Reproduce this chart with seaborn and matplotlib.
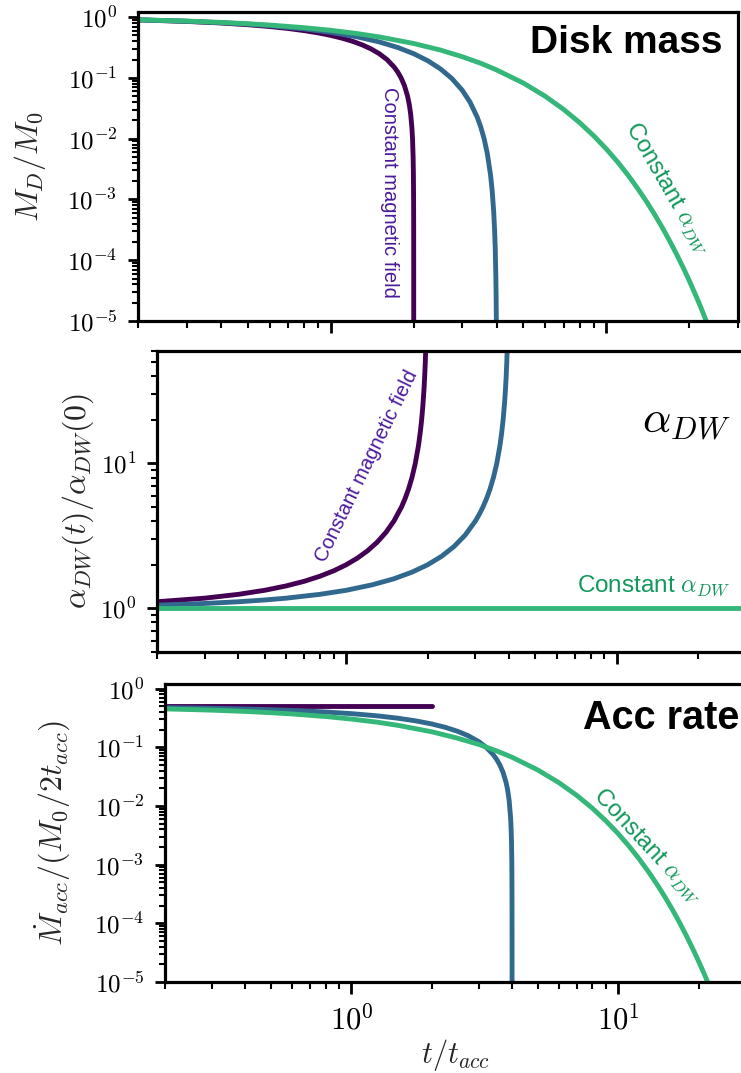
import numpy as np
import pandas as pd
import matplotlib
matplotlib.use("Agg")
import matplotlib.pyplot as plt
import seaborn as sns
from matplotlib.ticker import LogLocator, NullFormatter, FuncFormatter

# ---------------- data ----------------
models = ["Constant magnetic field", "Intermediate", "Constant alpha"]

# Panel 1: disk mass M_D / M_0
t_mass_mag = [0.2, 0.3, 0.4, 0.5, 0.6, 0.7, 0.8, 0.9, 1.0, 1.1, 1.2, 1.3, 1.4, 1.5, 1.6,
              1.7, 1.75, 1.8, 1.85, 1.9, 1.93, 1.95, 1.97, 1.98, 1.99, 1.995, 1.998,
              1.999, 1.9995, 1.9998, 1.9999, 1.99995, 1.99999]
mass_mag = [0.9, 0.85, 0.8, 0.75, 0.7, 0.65, 0.6, 0.55, 0.5, 0.45, 0.4, 0.35, 0.3, 0.25, 0.2,
            0.15, 0.125, 0.1, 0.075, 0.05, 0.035, 0.025, 0.015, 0.01, 0.005, 0.0025, 0.001,
            5e-4, 2.5e-4, 1e-4, 5e-5, 2.5e-5, 5e-6]
t_mass_mid = [0.2, 0.3, 0.4, 0.5, 0.6, 0.8, 1.0, 1.25, 1.5, 1.75, 2.0, 2.25, 2.5, 2.75, 3.0,
              3.2, 3.4, 3.5, 3.6, 3.7, 3.8, 3.85, 3.9, 3.93, 3.95, 3.97, 3.98, 3.99, 3.995, 3.998]
mass_mid = [0.9025, 0.8556, 0.81, 0.7656, 0.7225, 0.64, 0.5625, 0.4727, 0.3906, 0.3164, 0.25,
            0.1914, 0.1406, 0.0977, 0.0625, 0.04, 0.0225, 0.0156, 0.01, 0.0056, 0.0025, 0.0014,
            6.3e-4, 3.1e-4, 1.6e-4, 5.6e-5, 2.5e-5, 6.3e-6, 1.6e-6, 2.5e-7]
t_mass_alpha = [0.2, 0.3, 0.4, 0.5, 0.6, 0.8, 1.0, 1.25, 1.5, 2.0, 2.5, 3.0, 3.5, 4.0, 5.0, 6.0,
                7.0, 8.0, 9.0, 10, 11, 12, 13, 14, 15, 16, 17, 18, 19, 20, 21, 22, 23, 24, 25]
mass_alpha = [0.905, 0.861, 0.819, 0.779, 0.741, 0.670, 0.607, 0.535, 0.472, 0.368, 0.287,
              0.223, 0.174, 0.135, 0.0821, 0.0498, 0.0302, 0.0183, 0.0111, 6.74e-3, 4.09e-3,
              2.48e-3, 1.50e-3, 9.12e-4, 5.53e-4, 3.35e-4, 2.03e-4, 1.23e-4, 7.49e-5, 4.54e-5,
              2.75e-5, 1.67e-5, 1.01e-5, 6.14e-6, 3.73e-6]

# Panel 2: alpha_DW(t) / alpha_DW(0)
t_alp_mag = [0.2, 0.3, 0.4, 0.5, 0.6, 0.7, 0.8, 0.9, 1.0, 1.1, 1.2, 1.3, 1.4, 1.5, 1.6, 1.65,
             1.7, 1.75, 1.8, 1.85, 1.88, 1.9, 1.92, 1.94, 1.95, 1.96, 1.97, 1.98]
alp_mag = [1.111, 1.176, 1.25, 1.333, 1.429, 1.538, 1.667, 1.818, 2.0, 2.222, 2.5, 2.857,
           3.333, 4.0, 5.0, 5.714, 6.667, 8.0, 10.0, 13.33, 16.67, 20.0, 25.0, 33.33, 40.0,
           50.0, 66.67, 100.0]
t_alp_mid = [0.2, 0.3, 0.4, 0.5, 0.6, 0.8, 1.0, 1.25, 1.5, 1.75, 2.0, 2.25, 2.5, 2.75, 3.0,
             3.1, 3.2, 3.3, 3.4, 3.5, 3.6, 3.7, 3.75, 3.8, 3.85, 3.88, 3.9, 3.92, 3.94, 3.95]
alp_mid = [1.053, 1.081, 1.111, 1.143, 1.176, 1.25, 1.333, 1.455, 1.6, 1.778, 2.0, 2.286,
           2.667, 3.2, 4.0, 4.444, 5.0, 5.714, 6.667, 8.0, 10.0, 13.33, 16.0, 20.0, 26.67,
           33.33, 40.0, 50.0, 66.67, 80.0]
t_alp_alpha = [0.2, 1.0, 10.0, 30.0]
alp_alpha = [1.0, 1.0, 1.0, 1.0]

# Panel 3: accretion rate  Mdot_acc / (M_0 / 2 t_acc)
t_acc_mag = [0.2, 0.5, 1.0, 1.5, 2.0]
acc_mag = [0.5, 0.5, 0.5, 0.5, 0.5]
t_acc_mid = [0.2, 0.3, 0.4, 0.5, 0.6, 0.8, 1.0, 1.25, 1.5, 1.75, 2.0, 2.25, 2.5, 2.75, 3.0,
             3.2, 3.4, 3.5, 3.6, 3.7, 3.8, 3.85, 3.9, 3.95, 3.97, 3.98, 3.99, 3.995, 3.998,
             3.999, 3.9995, 3.9998, 3.9999, 3.99995, 3.99999]
acc_mid = [0.475, 0.4625, 0.45, 0.4375, 0.425, 0.4, 0.375, 0.3438, 0.3125, 0.2813, 0.25,
           0.2188, 0.1875, 0.1563, 0.125, 0.1, 0.075, 0.0625, 0.05, 0.0375, 0.025, 0.0188,
           0.0125, 0.00625, 0.00375, 0.0025, 0.00125, 6.25e-4, 2.5e-4, 1.25e-4, 6.25e-5,
           2.5e-5, 1.25e-5, 6.25e-6, 1.25e-6]
t_acc_alpha = [0.2, 0.3, 0.4, 0.5, 0.6, 0.8, 1.0, 1.25, 1.5, 2.0, 2.5, 3.0, 3.5, 4.0, 5.0, 6.0,
               7.0, 8.0, 9.0, 10, 11, 12, 13, 14, 15, 16, 17, 18, 19, 20, 21, 22, 23, 24]
acc_alpha = [0.452, 0.430, 0.409, 0.389, 0.370, 0.335, 0.303, 0.268, 0.236, 0.184, 0.143,
             0.112, 0.0869, 0.0677, 0.0410, 0.0249, 0.0151, 0.00916, 0.00555, 3.37e-3,
             2.04e-3, 1.24e-3, 7.52e-4, 4.56e-4, 2.77e-4, 1.68e-4, 1.02e-4, 6.17e-5, 3.74e-5,
             2.27e-5, 1.38e-5, 8.35e-6, 5.06e-6, 3.07e-6]

line_colors = {"Constant magnetic field": "#440154", "Intermediate": "#31688e",
               "Constant alpha": "#35b779"}
purple_txt = "#4b1a9c"
green_txt = "#12985a"


def long_df(series):
    frames = []
    for name, t, v in series:
        frames.append(pd.DataFrame({"t": t, "value": v, "model": name}))
    return pd.concat(frames, ignore_index=True)


df_mass = long_df([(models[0], t_mass_mag, mass_mag), (models[1], t_mass_mid, mass_mid),
                   (models[2], t_mass_alpha, mass_alpha)])
df_alp = long_df([(models[0], t_alp_mag, alp_mag), (models[1], t_alp_mid, alp_mid),
                  (models[2], t_alp_alpha, alp_alpha)])
df_acc = long_df([(models[0], t_acc_mag, acc_mag), (models[1], t_acc_mid, acc_mid),
                  (models[2], t_acc_alpha, acc_alpha)])

# ---------------- style ----------------
sns.set_style("ticks")
plt.rcParams["font.family"] = ["Liberation Sans", "DejaVu Sans"]
plt.rcParams["mathtext.fontset"] = "cm"
plt.rcParams["axes.linewidth"] = 2.3

W, H = 741, 1073
fig = plt.figure(figsize=(W / 100, H / 100), dpi=100)


def px_axes(left, top, right, bottom):
    return fig.add_axes([left / W, 1 - bottom / H, (right - left) / W, (bottom - top) / H])


def fx(x):
    return x / W


def fy(y):
    return 1 - y / H


def pow10_label(v, pos):
    e = int(round(np.log10(v)))
    return r"$\mathrm{10}^{\mathrm{%d}}$" % e


ax1 = px_axes(138, 12.3, 738, 321)
ax2 = px_axes(157, 350.7, 746, 652)
ax3 = px_axes(165, 684, 745.5, 982)

for ax, df in [(ax1, df_mass), (ax2, df_alp), (ax3, df_acc)]:
    sns.lineplot(data=df, x="t", y="value", hue="model", palette=line_colors,
                 hue_order=models, estimator=None, sort=False, linewidth=3.5,
                 legend=False, ax=ax)
    ax.set_xscale("log")
    ax.set_yscale("log")
    ax.set_xlim(0.2, 30)
    for s in ax.spines.values():
        s.set_linewidth(2.3)
        s.set_color("black")
    ax.xaxis.set_major_locator(LogLocator(base=10, numticks=20))
    ax.yaxis.set_major_locator(LogLocator(base=10, numticks=20))
    ax.xaxis.set_minor_locator(LogLocator(base=10, subs=np.arange(2, 10), numticks=100))
    ax.yaxis.set_minor_locator(LogLocator(base=10, subs=np.arange(2, 10), numticks=100))
    ax.xaxis.set_major_formatter(FuncFormatter(pow10_label))
    ax.yaxis.set_major_formatter(FuncFormatter(pow10_label))
    ax.xaxis.set_minor_formatter(NullFormatter())
    ax.yaxis.set_minor_formatter(NullFormatter())
    ax.tick_params(which="both", direction="out", top=False, right=False, colors="black")
    ax.tick_params(axis="y", which="major", length=7, width=2, labelsize=18, pad=8)
    ax.tick_params(axis="y", which="minor", length=4.5, width=1.5)
    ax.tick_params(axis="x", which="major", length=8.5, width=2, labelsize=22, pad=8)
    ax.tick_params(axis="x", which="minor", length=5, width=1.5)
    ax.set_xlabel("")

ax1.set_ylim(1e-5, 1.2)
ax2.set_ylim(0.5, 60)
ax3.set_ylim(1e-5, 1.2)
ax1.tick_params(axis="x", labelbottom=False)
ax2.tick_params(axis="x", labelbottom=False)

ax1.set_ylabel(r"$M_D/M_0$", fontsize=23)
ax1.yaxis.set_label_coords(-0.15, 0.5)
ax2.set_ylabel(r"$\alpha_{DW}(t)/\alpha_{DW}(0)$", fontsize=23)
ax2.yaxis.set_label_coords(-0.104, 0.5)
ax3.set_ylabel(r"$\dot{M}_{acc}/(M_0/2t_{acc})$", fontsize=23)
ax3.yaxis.set_label_coords(-0.158, 0.5)
ax3.set_xlabel(r"$t/t_{acc}$", fontsize=22)
ax3.xaxis.set_label_coords(0.5, -0.185)

# ---------------- annotations ----------------
fig.text(fx(723), fy(52.7), "Disk mass", ha="right", va="baseline", fontsize=28,
         fontweight="bold", color="black")
fig.text(fx(390), fy(192.5), "Constant magnetic field", rotation=-90, rotation_mode="anchor",
         ha="center", va="center", fontsize=14.5, color=purple_txt)
fig.text(fx(668), fy(189), r"Constant $\alpha_{DW}$", rotation=-60, rotation_mode="anchor",
         ha="center", va="center", fontsize=17, color=green_txt)

fig.text(fx(366.5), fy(466.5), "Constant magnetic field", rotation=64, rotation_mode="anchor",
         ha="center", va="center", fontsize=14.5, color=purple_txt)
fig.text(fx(731), fy(422), r"$\alpha_{DW}$", ha="right", va="center", fontsize=32,
         color="black")
fig.text(fx(577), fy(592), r"Constant $\alpha_{DW}$", ha="left", va="baseline",
         fontsize=17.5, color=green_txt)

fig.text(fx(739), fy(729.3), "Acc rate", ha="right", va="baseline", fontsize=28.5,
         fontweight="bold", color="black")
fig.text(fx(648), fy(846), r"Constant $\alpha_{DW}$", rotation=-47, rotation_mode="anchor",
         ha="center", va="center", fontsize=17, color=green_txt)

fig.savefig("out.png", dpi=100)
